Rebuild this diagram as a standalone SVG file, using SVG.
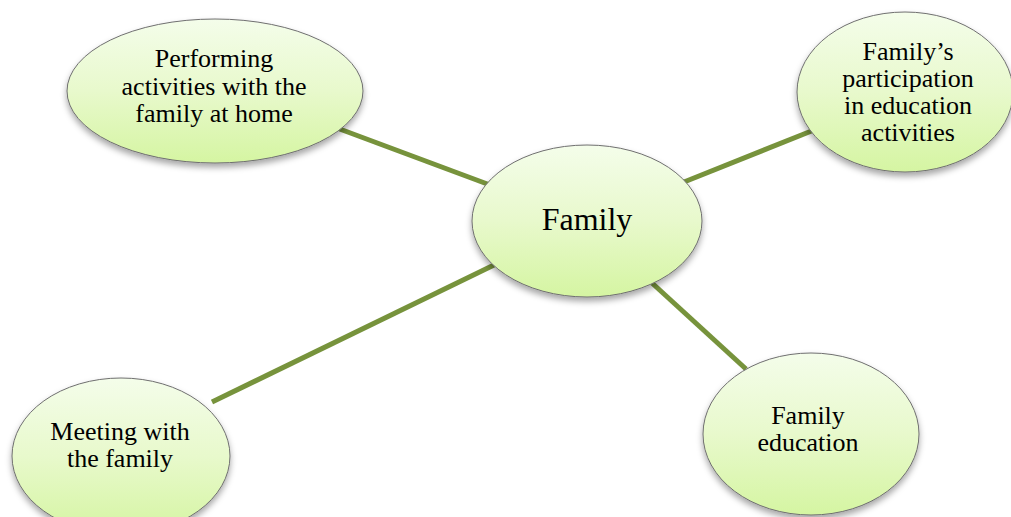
<svg xmlns="http://www.w3.org/2000/svg" width="1011" height="517" viewBox="0 0 1011 517">
<defs>
<linearGradient id="g" x1="0" y1="0" x2="0" y2="1">
<stop offset="0" stop-color="#f4fdea"/>
<stop offset="0.5" stop-color="#e8f9cc"/>
<stop offset="1" stop-color="#d5f5a2"/>
</linearGradient>
<filter id="sh" x="-20%" y="-20%" width="140%" height="150%">
<feDropShadow dx="0" dy="4" stdDeviation="3" flood-color="#000" flood-opacity="0.35"/>
</filter>
</defs>
<style>
.n{fill:url(#g);stroke:#6f6f6f;stroke-width:1;filter:url(#sh)}
.t{font-family:"Nimbus Roman","Tinos","Noto Serif","FreeSerif","Times","Liberation Serif","DejaVu Serif",serif;font-size:26px;fill:#000;text-anchor:middle}
.big{font-size:32px}
.c{stroke:#77933c;stroke-width:5;stroke-linecap:butt}
</style>
<rect width="1011" height="517" fill="#fff"/>
<g id="connectors">
<line class="c" x1="337" y1="128" x2="490" y2="185"/>
<line class="c" x1="684" y1="182" x2="814" y2="130"/>
<line class="c" x1="212" y1="402" x2="494" y2="265"/>
<line class="c" x1="652" y1="283" x2="746" y2="369"/>
</g>
<g id="node-family">
<ellipse class="n" cx="587" cy="221" rx="115" ry="76"/>
<text class="t big" x="587" y="230">Family</text>
</g>
<g id="node-performing">
<ellipse class="n" cx="215" cy="91" rx="148" ry="72"/>
<text class="t" x="214" y="67">Performing</text>
<text class="t" x="214" y="95">activities with the</text>
<text class="t" x="214" y="122">family at home</text>
</g>
<g id="node-participation">
<ellipse class="n" cx="905" cy="92" rx="108" ry="80"/>
<text class="t" x="908" y="60">Family’s</text>
<text class="t" x="908" y="87">participation</text>
<text class="t" x="908" y="114">in education</text>
<text class="t" x="908" y="141">activities</text>
</g>
<g id="node-meeting">
<ellipse class="n" cx="121" cy="456" rx="109" ry="78"/>
<text class="t" x="120" y="440">Meeting with</text>
<text class="t" x="120" y="467">the family</text>
</g>
<g id="node-education">
<ellipse class="n" cx="811" cy="434" rx="108" ry="81"/>
<text class="t" x="808" y="424">Family</text>
<text class="t" x="808" y="451">education</text>
</g>
</svg>
